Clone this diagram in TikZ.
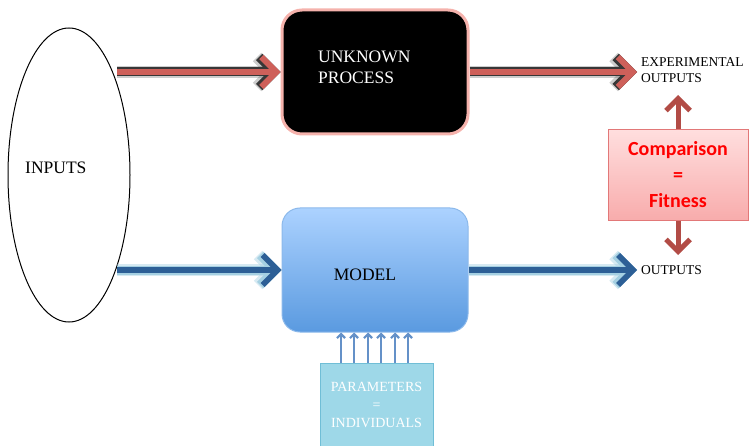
\documentclass[tikz,border=0pt]{standalone}
\usepackage{fontspec}
\setmainfont{Liberation Serif}
\newfontfamily\cmpfont{Carlito}
\usetikzlibrary{shapes.geometric}
\usetikzlibrary{positioning}
\usetikzlibrary{arrows.meta}

\definecolor{arrowred}{RGB}{206,96,90}
\definecolor{glowdark}{RGB}{55,55,55}
\definecolor{arrowblue}{RGB}{45,95,150}
\definecolor{glowblue}{RGB}{165,208,226}
\definecolor{linkred}{RGB}{178,76,70}
\definecolor{parblue}{RGB}{100,145,200}
\definecolor{modeltop}{RGB}{172,210,255}
\definecolor{modelbot}{RGB}{90,154,224}
\definecolor{modelline}{RGB}{140,185,235}
\definecolor{procglow}{RGB}{245,178,172}
\definecolor{cmptop}{RGB}{255,222,222}
\definecolor{cmpbot}{RGB}{248,172,172}
\definecolor{cmpline}{RGB}{226,120,120}
\definecolor{parfill}{RGB}{158,216,232}
\definecolor{parline}{RGB}{112,190,214}

\tikzset{
  bigtip/.style={-{Straight Barb[length=15pt,width=30pt]}},
  redarrow/.style={bigtip, draw=arrowred, line width=6pt,
    preaction={draw=glowdark, opacity=.25, line width=12pt},
    preaction={draw=glowdark, line width=9pt}},
  bluearrow/.style={bigtip, draw=arrowblue, line width=5.5pt,
    preaction={draw=glowblue, opacity=.45, line width=12pt},
    preaction={draw=glowblue, line width=9pt}},
  linkarrow/.style={-{Straight Barb[length=12pt,width=24pt]}, draw=linkred, line width=5pt},
  pararrow/.style={-{Straight Barb[length=4pt,width=8pt]}, draw=parblue, line width=2.2pt},
  procbox/.style={rectangle, rounded corners=20pt, fill=black, draw=procglow, line width=3pt,
    minimum width=186pt, minimum height=124pt},
  modelbox/.style={rectangle, rounded corners=18pt, top color=modeltop, bottom color=modelbot,
    draw=modelline, line width=1pt, minimum width=186pt, minimum height=124pt},
  cmpbox/.style={rectangle, top color=cmptop, bottom color=cmpbot, draw=cmpline, line width=1pt,
    minimum width=140pt, minimum height=90pt, align=center, text=red,
    font=\cmpfont\bfseries\fontsize{20}{26}\selectfont},
  parbox/.style={rectangle, fill=parfill, draw=parline, line width=1pt,
    minimum width=113pt, minimum height=84pt, align=center, text=white,
    font=\fontsize{14}{18}\selectfont},
  bigtext/.style={font=\fontsize{17.5}{21}\selectfont},
  smalltext/.style={font=\fontsize{13.5}{16}\selectfont, align=left}
}

\begin{document}
\begin{tikzpicture}[x=1pt,y=-1pt]
\useasboundingbox (0,0) rectangle (751,446);

% inputs
\node[ellipse, draw, line width=1pt, minimum width=122pt, minimum height=294pt, inner sep=0pt] (inputs) at (69,175) {};
\node[bigtext, anchor=west, inner sep=0pt] (inputstext) at (25,168) {INPUTS};

% the two blocks
\node[procbox] (process) at (375,72) {};
\node[bigtext, anchor=west, align=left, text=white, inner sep=0pt] (proctext) at (318,67) {UNKNOWN\\PROCESS};
\node[modelbox] (model) at (375,270) {};
\node[bigtext, inner sep=0pt] (modeltext) at (365,275) {MODEL};

% outputs
\node[smalltext, anchor=west, inner sep=0pt] (expout) at (641,70) {EXPERIMENTAL\\OUTPUTS};
\node[smalltext, anchor=west, inner sep=0pt] (simout) at (641,270) {OUTPUTS};
\node[cmpbox] (compare) at (678,175) {Comparison\\=\\Fitness};
\coordinate (uptip) at (678,95);
\coordinate (downtip) at (678,255);

% parameters
\node[parbox] (params) at (376.5,405) {PARAMETERS\\=\\INDIVIDUALS};

\draw[redarrow] (inputs.62 |- process.west) -- (process.west);
\draw[redarrow] (process.east) -- ([xshift=-4pt]expout.west |- process.east);
\draw[bluearrow] (inputs.-62 |- model.west) -- (model.west);
\draw[bluearrow] (model.east) -- ([xshift=-4pt]simout.west);
\draw[linkarrow] (compare.north) -- (uptip);
\draw[linkarrow] (compare.south) -- (downtip);
\foreach \x in {341,354,368,381,395,408}
  \draw[pararrow] (\x,0 |- params.north) -- (\x,0 |- model.south);
\end{tikzpicture}
\end{document}
